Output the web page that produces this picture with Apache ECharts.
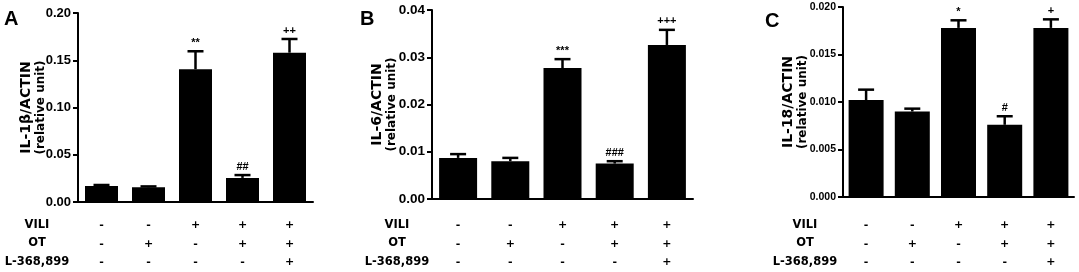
<!DOCTYPE html>
<html>
<head>
<meta charset="utf-8">
<script src="https://cdn.jsdelivr.net/npm/echarts@6/dist/echarts.min.js"></script>
<style>
  html, body { margin: 0; padding: 0; background: #fff; }
  #main { width: 1079px; height: 272px; }
</style>
</head>
<body>
<div id="main"></div>
<script>
// treatment rows under the x axis
const rowNames = ['VILI', 'OT', 'L-368,899'];
const vili = ['-', '-', '+', '+', '+'];
const ot = ['-', '+', '-', '+', '+'];
const l368 = ['-', '-', '-', '-', '+'];
const groups = ['g1', 'g2', 'g3', 'g4', 'g5'];

// panel A: IL-1β
const il1bMean = [0.017, 0.0155, 0.1405, 0.0255, 0.158];
const il1bSem = [0.001, 0.001, 0.019, 0.003, 0.0145];
const il1bMarks = ['', '', '**', '##', '++'];

// panel B: IL-6
const il6Mean = [0.0087, 0.0080, 0.0277, 0.0075, 0.0326];
const il6Sem = [0.0008, 0.0007, 0.0019, 0.0005, 0.0032];
const il6Marks = ['', '', '***', '###', '+++'];

// panel C: IL-18
const il18Mean = [0.0102, 0.0090, 0.0178, 0.0076, 0.0178];
const il18Sem = [0.0011, 0.0003, 0.0008, 0.0009, 0.0009];
const il18Marks = ['', '', '*', '#', '+'];

const FONT = 'Liberation Sans';
const WIDE = 'DejaVu Sans';
const ROW_Y = [225, 243.5, 262];

const panels = [
  { letter: 'A', title: 'IL-1β/ACTIN', mean: il1bMean, sem: il1bSem, marks: il1bMarks,
    max: 0.20, interval: 0.05, digits: 2, left: 78, width: 235, top: 13, height: 189, barWidth: 33,
    tickSize: 13, nameGap: 31, letterX: 4, letterY: 9, rowX: 37 },
  { letter: 'B', title: 'IL-6/ACTIN', mean: il6Mean, sem: il6Sem, marks: il6Marks,
    max: 0.04, interval: 0.01, digits: 2, left: 432, width: 261, top: 10, height: 189, barWidth: 38,
    tickSize: 13.5, nameGap: 34, letterX: 360, letterY: 9, rowX: 397 },
  { letter: 'C', title: 'IL-18/ACTIN', mean: il18Mean, sem: il18Sem, marks: il18Marks,
    max: 0.020, interval: 0.005, digits: 3, left: 843, width: 231, top: 7, height: 190, barWidth: 35,
    tickSize: 10.5, nameGap: 34, letterX: 765, letterY: 11, rowX: 805 }
];

const grid = [], xAxis = [], yAxis = [], series = [], graphic = [];

panels.forEach(function (p, k) {
  grid.push({ left: p.left, top: p.top, width: p.width, height: p.height });
  const axisY = p.top + p.height;
  xAxis.push({
    type: 'category', gridIndex: k, data: groups,
    axisLine: { lineStyle: { color: '#000', width: 2 } },
    axisTick: { alignWithLabel: true, length: 5, lineStyle: { color: '#000', width: 2 } },
    axisLabel: {
      margin: ROW_Y[0] - 9 - axisY,
      lineHeight: 18.5,
      fontFamily: WIDE, fontWeight: 'bold', fontSize: 11, color: '#000',
      formatter: function (v, i) { return vili[i] + '\n' + ot[i] + '\n' + l368[i]; }
    }
  });
  yAxis.push({
    type: 'value', gridIndex: k, min: 0, max: p.max, interval: p.interval,
    name: '{a|' + p.title + '}\n{b|(relative unit)}',
    nameLocation: 'middle', nameRotate: 90, nameGap: p.nameGap, nameMoveOverlap: false,
    nameTextStyle: {
      fontFamily: WIDE, fontWeight: 'bold', color: '#000',
      rich: {
        a: { fontFamily: WIDE, fontWeight: 'bold', fontSize: 14, lineHeight: 15, color: '#000' },
        b: { fontFamily: WIDE, fontWeight: 'bold', fontSize: 12, lineHeight: 13, color: '#000' }
      }
    },
    splitLine: { show: false },
    axisLine: { show: true, lineStyle: { color: '#000', width: 2 } },
    axisTick: { show: true, length: 5, lineStyle: { color: '#000', width: 2 } },
    axisLabel: {
      margin: 7, fontFamily: FONT, fontWeight: 'bold', fontSize: p.tickSize, color: '#000',
      formatter: function (v) { return v.toFixed(p.digits); }
    }
  });
  series.push({
    type: 'bar', xAxisIndex: k, yAxisIndex: k, barWidth: p.barWidth,
    itemStyle: { color: '#000' }, silent: true, z: 2,
    data: p.mean
  });
  series.push({
    type: 'custom', xAxisIndex: k, yAxisIndex: k, z: 3, silent: true,
    data: p.mean.map(function (m, i) { return [i, m, p.sem[i]]; }),
    renderItem: function (params, api) {
      const i = api.value(0), m = api.value(1), s = api.value(2);
      const base = api.coord([i, m]);
      const top = api.coord([i, m + s]);
      const half = 8;
      return {
        type: 'group',
        children: [
          { type: 'line', shape: { x1: top[0], y1: base[1], x2: top[0], y2: top[1] },
            style: { stroke: '#000', lineWidth: 2.5 } },
          { type: 'line', shape: { x1: top[0] - half, y1: top[1], x2: top[0] + half, y2: top[1] },
            style: { stroke: '#000', lineWidth: 2.5 } },
          { type: 'text', x: top[0], y: top[1] - 3,
            style: { text: p.marks[params.dataIndex], align: 'center', verticalAlign: 'bottom',
              fontFamily: FONT, fontWeight: 'bold', fontSize: 11, fill: '#000' } }
        ]
      };
    }
  });
  graphic.push({
    type: 'text', left: p.letterX, top: p.letterY,
    style: { text: p.letter, fontFamily: FONT, fontWeight: 'bold', fontSize: 20, fill: '#000' }
  });
  rowNames.forEach(function (name, r) {
    graphic.push({
      type: 'text', x: p.rowX, y: ROW_Y[r],
      style: { text: name, align: 'center', verticalAlign: 'middle',
        fontFamily: WIDE, fontWeight: 'bold', fontSize: 11.5, fill: '#000' }
    });
  });
});

const chart = echarts.init(document.getElementById('main'), null, { renderer: 'canvas' });
chart.setOption({
  animation: false,
  backgroundColor: '#fff',
  grid: grid,
  xAxis: xAxis,
  yAxis: yAxis,
  series: series,
  graphic: graphic
});
</script>
</body>
</html>
